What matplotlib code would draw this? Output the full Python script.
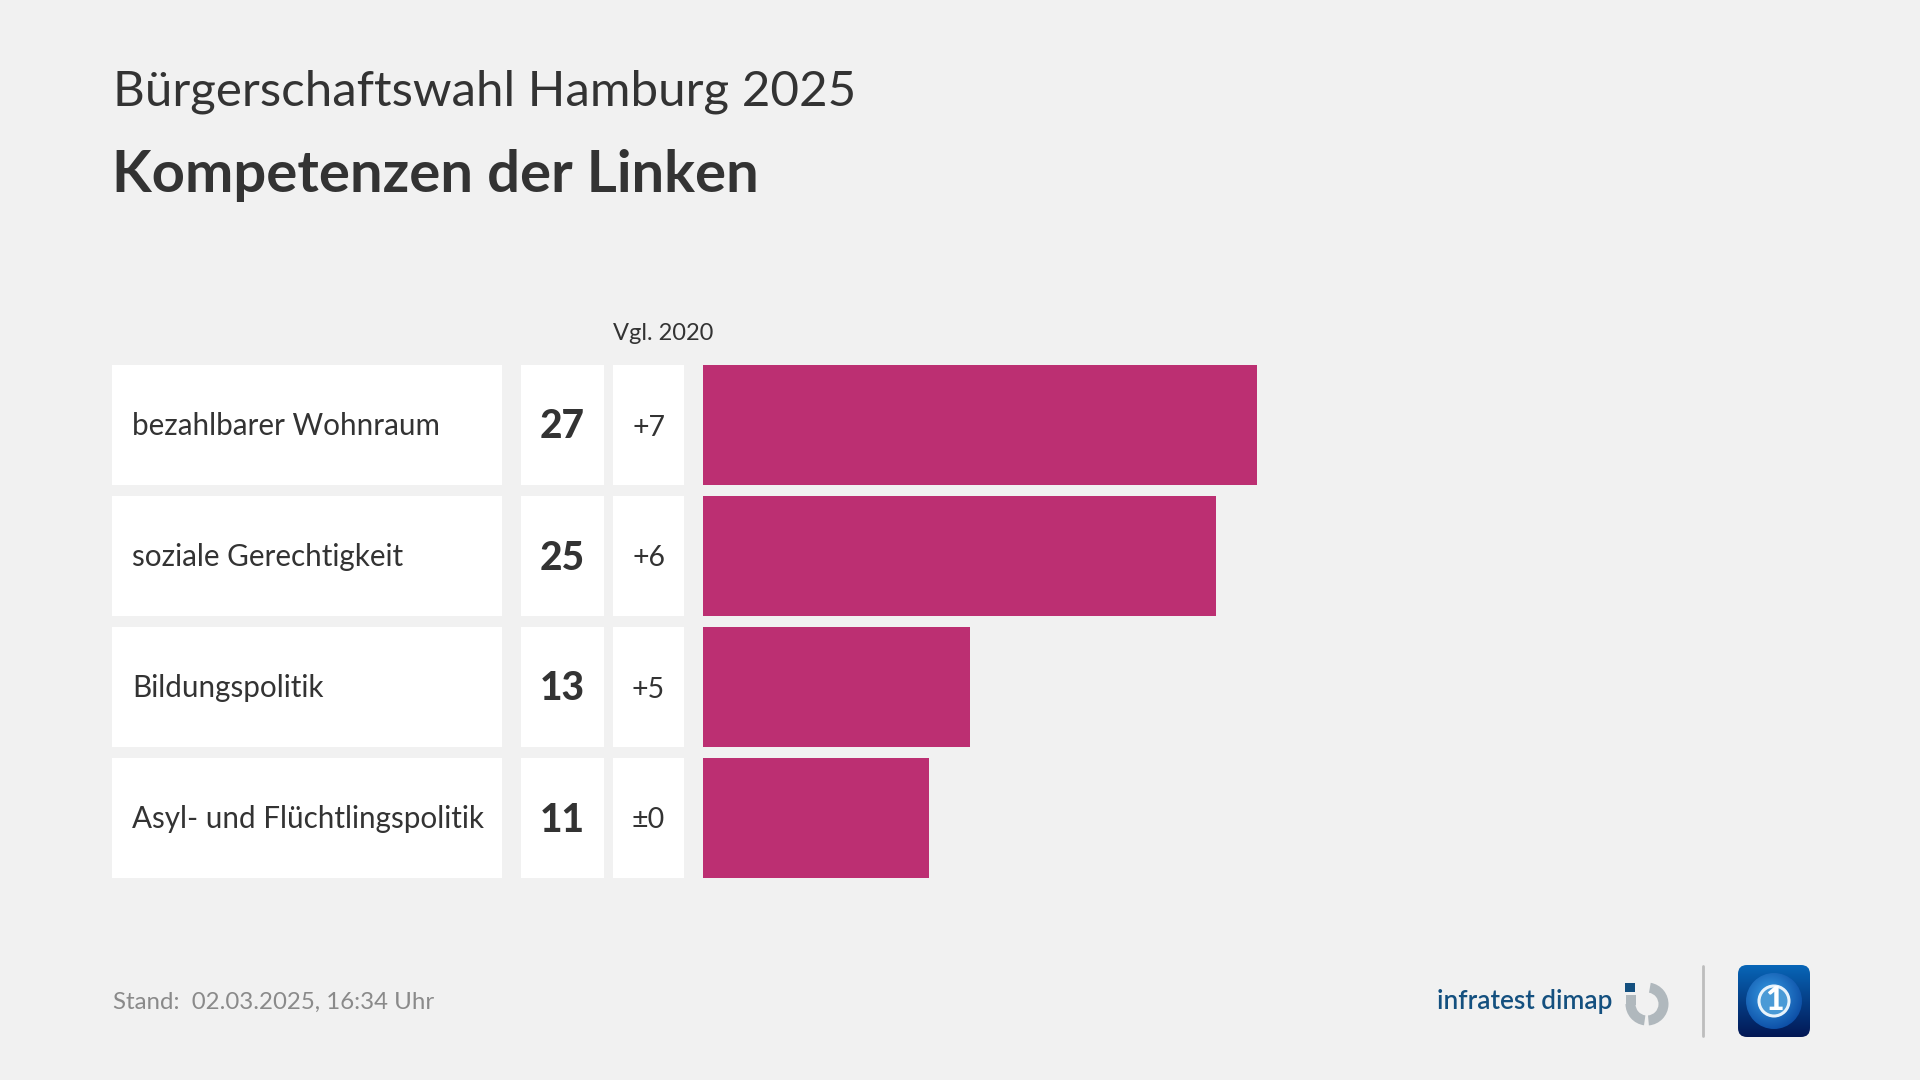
import numpy as np
import matplotlib
matplotlib.use("Agg")
import matplotlib.pyplot as plt
from matplotlib.patches import Rectangle, FancyBboxPatch, Wedge, Circle

FONT = "Lato"
plt.rcParams["font.family"] = [FONT, "DejaVu Sans"]

BG = "#f1f1f1"
INK = "#333333"
BAR = "#bc2f72"

categories = ["bezahlbarer Wohnraum", "soziale Gerechtigkeit", "Bildungspolitik",
              "Asyl- und Flüchtlingspolitik"]
values = [27, 25, 13, 11]
changes = ["+7", "+6", "+5", "±0"]

W, H = 1920, 1080
ROW_TOP = 365
ROW_H = 120
ROW_STEP = 131

fig = plt.figure(figsize=(19.2, 10.8), dpi=100, facecolor=BG)

# page axes in pixel coordinates
ax = fig.add_axes([0, 0, 1, 1])
ax.set_xlim(0, W)
ax.set_ylim(H, 0)
ax.axis("off")

# ── titles ────────────────────────────────────────────────────────────────────
ax.text(113, 92, "Bürgerschaftswahl Hamburg 2025", fontsize=35.5, color=INK,
        va="center", ha="left")
ax.text(112, 175, "Kompetenzen der Linken", fontsize=41.8, color=INK,
        va="center", ha="left", fontweight="bold")
ax.text(663.5, 333.5, "Vgl. 2020", fontsize=17, color=INK, va="center", ha="center")

# ── table cells ───────────────────────────────────────────────────────────────
for i, (cat, val, chg) in enumerate(zip(categories, values, changes)):
    y0 = ROW_TOP + i * ROW_STEP
    yc = y0 + ROW_H / 2
    for x0, x1 in [(112, 502), (521, 604), (613, 684)]:
        ax.add_patch(Rectangle((x0, y0), x1 - x0, ROW_H, fc="white", ec="none"))
    ax.text(132, yc + 1, cat, fontsize=21.3, color=INK, va="center", ha="left")
    ax.text(562.5, yc + 2, str(val), fontsize=28, color=INK, va="center", ha="center",
            fontweight="black")
    ax.text(648.5, yc + 2.5, chg, fontsize=20.5, color=INK, va="center", ha="center")

# ── bars ──────────────────────────────────────────────────────────────────────
PX_PER_UNIT = 20.5
bar_left, bar_right = 703, 1803
bar_ax = fig.add_axes([bar_left / W, 1 - (ROW_TOP + 3 * ROW_STEP + ROW_H) / H,
                       (bar_right - bar_left) / W, (3 * ROW_STEP + ROW_H) / H])
bar_ax.patch.set_alpha(0)
bar_ax.axis("off")
bar_ax.set_xlim(0, (bar_right - bar_left) / PX_PER_UNIT)
ypos = np.arange(len(values))
bar_ax.set_ylim(3 + ROW_H / ROW_STEP / 2, -ROW_H / ROW_STEP / 2)
bar_ax.barh(ypos, values, height=ROW_H / ROW_STEP, color=BAR, edgecolor="none")

# ── footer ────────────────────────────────────────────────────────────────────
ax.text(113, 1002, "Stand:  02.03.2025, 16:34 Uhr", fontsize=17.3, color="#8a8a8a",
        va="center", ha="left")

# infratest dimap logo
ax.text(1437, 1001, "infratest dimap", fontsize=18.8, color="#14507f", va="center", ha="left",
        fontweight="semibold")
ax.add_patch(Rectangle((1625, 983), 10, 9, fc="#14507f", ec="none"))
ax.add_patch(Wedge((1647, 1004), 21.5, -80, 85, width=10, fc="#b0b8bd", ec="none"))
ax.add_patch(Wedge((1647, 1004), 21.5, 98, 180, width=10, fc="#b0b8bd", ec="none"))
ax.add_patch(Rectangle((1625.5, 995), 10, 9.5, fc="#b0b8bd", ec="none"))

# divider
ax.plot([1702.5, 1702.5], [966, 1036], color="#bdbdbd", lw=2, solid_capstyle="round")

# tagesschau icon
icon = FancyBboxPatch((1746, 973), 56, 56, boxstyle="round,pad=8,rounding_size=9",
                      fc="none", ec="none")
ax.add_patch(icon)
grad = np.linspace(0, 1, 128)[:, None, None]
top = np.array([0.03, 0.40, 0.72])
bottom = np.array([0.01, 0.09, 0.33])
img = ax.imshow(top * (1 - grad) + bottom * grad, extent=(1738, 1810, 1037, 965),
                aspect="auto", zorder=2)
img.set_clip_path(icon)

yy, xx = np.mgrid[-1:1:128j, -1:1:128j]
dist = np.clip(np.hypot(xx + 0.15, yy + 0.2) / 1.4, 0, 1)[..., None]
centre = np.array([0.22, 0.62, 0.90])
rim = np.array([0.03, 0.27, 0.62])
globe = ax.imshow(centre * (1 - dist) + rim * dist, extent=(1746, 1802, 1029, 973),
                  aspect="auto", zorder=3)
globe.set_clip_path(Circle((1774, 1001), 28, transform=ax.transData))
ax.add_patch(Circle((1774, 1001), 15, fc="#4a9ad6", ec="#e8f3fb", lw=2.2, zorder=4))
ax.text(1774, 1001, "1", fontsize=23, color="white", fontweight="black",
        va="center", ha="center", zorder=5)

ax.set_xlim(0, W)
ax.set_ylim(H, 0)

fig.savefig("out.png", dpi=100, facecolor=BG)
plt.close()
